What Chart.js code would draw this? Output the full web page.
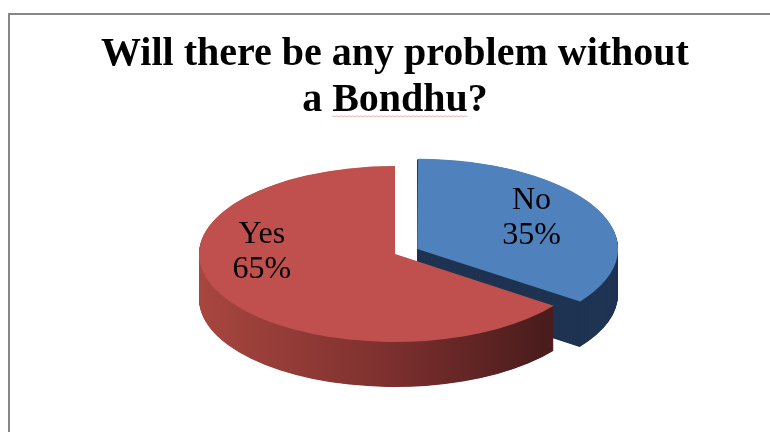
<!DOCTYPE html>
<html>
<head>
<meta charset="utf-8">
<title>Bondhu survey</title>
<script src="https://cdn.jsdelivr.net/npm/chart.js@4/dist/chart.umd.min.js"></script>
<style>
    html, body { margin: 0; padding: 0; background: #fff; overflow: hidden; }
    #frame {
        position: absolute; left: 8px; top: 13px;
        width: 800px; height: 460px;
        border: 2px solid #878787;
    }
    #chartBox { position: absolute; left: 0; top: 0; width: 770px; height: 432px; }
</style>
</head>
<body>
<div id="frame"></div>
<div id="chartBox"><canvas id="bondhuChart" width="770" height="432"></canvas></div>
<script>
// Answers and their shares
const categories = ['No', 'Yes'];
const shares = [35, 65];
const sliceColors = ['#4f81bd', '#c0504d'];
const titleLines = ['Will there be any problem without', 'a Bondhu?'];

// 3D look: vertical squash of the disc and the height of its side wall
const TILT = 0.449;
const DEPTH = 45;
// small angle shift (degrees) for where each label sits on its slice
const labelTurn = [-4, 29];

function sidePaint(ctx, index, arc) {
    if (index === 0) return '#1f3452';
    const g = ctx.createLinearGradient(arc.x - arc.outerRadius, 0, arc.x + arc.outerRadius, 0);
    g.addColorStop(0, '#a8463f');
    g.addColorStop(0.5, '#7b2f2e');
    g.addColorStop(0.88, '#4a1c1c');
    g.addColorStop(1, '#4a1c1c');
    return g;
}

function slicePath(ctx, arc, drop) {
    const p = arc.getProps(['x', 'y', 'startAngle', 'endAngle', 'outerRadius']);
    const t = (arc.options.offset || 0) / 4;
    const half = (p.startAngle + p.endAngle) / 2;
    const fix = 1 - Math.sin(Math.min(Math.PI, p.endAngle - p.startAngle));
    const r = p.outerRadius + t * fix;
    const cx = p.x + Math.cos(half) * t;
    const cy = p.y + Math.sin(half) * t + drop;
    ctx.beginPath();
    ctx.moveTo(cx, cy);
    ctx.arc(cx, cy, r, p.startAngle, p.endAngle);
    ctx.closePath();
}

const tiltedPie = {
    id: 'tiltedPie',
    beforeDatasetsDraw(chart) {
        const ctx = chart.ctx;
        const meta = chart.getDatasetMeta(0);
        const cy = meta.data[0].y;
        ctx.save();
        ctx.translate(0, cy);
        ctx.scale(1, TILT);
        ctx.translate(0, -cy);
        // side walls, back slice first
        meta.data.forEach((arc, i) => {
            ctx.fillStyle = sidePaint(ctx, i, arc);
            for (let d = DEPTH; d > 0; d -= 0.5) {
                slicePath(ctx, arc, d / TILT);
                ctx.fill();
            }
        });
    },
    afterDatasetsDraw(chart) {
        const ctx = chart.ctx;
        ctx.restore();
        const meta = chart.getDatasetMeta(0);
        const total = shares.reduce((a, b) => a + b, 0);
        ctx.save();
        ctx.fillStyle = '#000';
        ctx.font = '32px "Liberation Serif"';
        ctx.textAlign = 'center';
        ctx.textBaseline = 'middle';
        meta.data.forEach((arc, i) => {
            const p = arc.getProps(['x', 'y', 'startAngle', 'endAngle', 'outerRadius']);
            const t = (arc.options.offset || 0) / 4;
            const half = (p.startAngle + p.endAngle) / 2;
            const a = half + labelTurn[i] * Math.PI / 180;
            const rr = p.outerRadius * 0.68;
            const lx = p.x + Math.cos(half) * t + Math.cos(a) * rr;
            const ly = p.y + (Math.sin(half) * t + Math.sin(a) * rr) * TILT;
            const pct = Math.round(shares[i] / total * 100) + '%';
            ctx.fillText(categories[i], lx, ly - 17.5);
            ctx.fillText(pct, lx, ly + 17.5);
        });
        ctx.restore();
    },
    afterDraw(chart) {
        // spell-check squiggle under the word "Bondhu"
        const ctx = chart.ctx;
        const tb = chart.titleBlock;
        ctx.save();
        ctx.font = 'bold 40px "Liberation Serif"';
        const line = titleLines[1];
        const mid = (tb.left + tb.right) / 2;
        const x0 = mid - ctx.measureText(line).width / 2 + ctx.measureText('a ').width;
        const x1 = x0 + ctx.measureText('Bondhu').width;
        const y = tb.top + 32 + 46 * 1.5 + 15;
        ctx.strokeStyle = '#eab0b0';
        ctx.lineWidth = 1;
        ctx.beginPath();
        for (let x = x0; x <= x1; x += 1) {
            const yy = y + (Math.floor((x - x0) / 2) % 2 ? 0.5 : 0);
            if (x === x0) ctx.moveTo(x, yy); else ctx.lineTo(x, yy);
        }
        ctx.stroke();
        ctx.restore();
    }
};

const ctx = document.getElementById('bondhuChart').getContext('2d');
const bondhuChart = new Chart(ctx, {
    type: 'pie',
    data: {
        labels: categories,
        datasets: [{
            data: shares,
            backgroundColor: sliceColors,
            borderWidth: 0,
            offset: [100, 0],
            radius: 196
        }]
    },
    options: {
        responsive: false,
        animation: false,
        events: [],
        layout: { padding: { left: 20, right: 0, top: 0, bottom: 58 } },
        plugins: {
            legend: { display: false },
            tooltip: { enabled: false },
            title: {
                display: true,
                text: titleLines,
                color: '#000',
                font: { family: '"Liberation Serif"', size: 40, weight: 'bold', lineHeight: 1.15 },
                padding: { top: 32, bottom: 10 }
            }
        }
    },
    plugins: [tiltedPie]
});
</script>
</body>
</html>
